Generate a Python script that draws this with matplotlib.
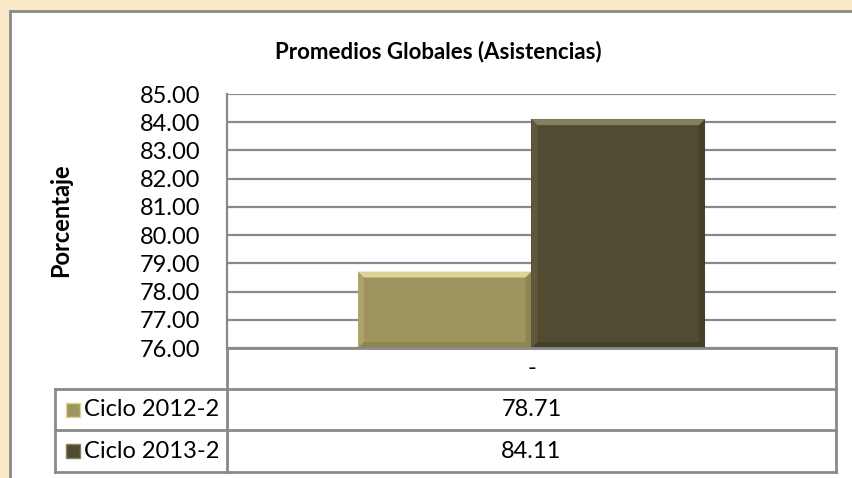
"""
Promedios globales de asistencias por ciclo, con tabla de datos
"""

import matplotlib.pyplot as plt
import numpy as np
from matplotlib.patches import Rectangle, Polygon
from matplotlib.lines import Line2D

plt.rcParams["font.family"] = ["Lato", "DejaVu Sans"]

# Datos
series = ["Ciclo 2012-2", "Ciclo 2013-2"]
valores = [78.71, 84.11]
categoria = ["-"]
yticks = [76, 77, 78, 79, 80, 81, 82, 83, 84, 85]

colores = ["#9e955e", "#514c31"]
bisel_claro = ["#ddd396", "#858062"]
bisel_oscuro = ["#6f683d", "#2f2c1b"]
gris = "#898989"

W, H = 853, 478
fig = plt.figure(figsize=(W / 100, H / 100), dpi=100)
fig.patch.set_facecolor("#fae8c6")


def fx(px):
    return px / W


def fy(py):
    return 1 - py / H


# panel blanco del grafico
fig.patches.append(Rectangle((fx(10), fy(478 + 10)), fx(900), fy(11) - fy(488),
                             transform=fig.transFigure, facecolor="white",
                             edgecolor=gris, linewidth=2, zorder=-5))

# area de trazado
left, right, top, bottom = 227, 836, 94, 348
ax = fig.add_axes([fx(left), fy(bottom), fx(right - left), fy(top) - fy(bottom)])
ax.set_facecolor("none")
ax.set_zorder(2)

ancho = 0.285
offsets = [-0.1425, 0.1425]
ax.set_xlim(-0.5, 0.5)
ax.set_ylim(yticks[0], yticks[-1])
ax.set_yticks(yticks)
ax.set_yticklabels([f"{t:.2f}" for t in yticks])
ax.set_xticks([])
ax.tick_params(axis="y", length=0, pad=19, labelsize=17, colors="black")
ax.yaxis.grid(True, color=gris, linewidth=1.6)
ax.set_axisbelow(True)
for s in ["top", "right", "bottom"]:
    ax.spines[s].set_visible(False)
ax.spines["left"].set_color(gris)
ax.spines["left"].set_linewidth(1.6)

# barras con bisel
px_x = 1.0 / (right - left)
px_y = (yticks[-1] - yticks[0]) / (bottom - top)
b = 6
for i, v in enumerate(valores):
    barra = ax.bar(offsets[i], v - yticks[0], bottom=yticks[0], width=ancho,
                   color=colores[i], zorder=3)[0]
    x0, x1 = barra.get_x(), barra.get_x() + barra.get_width()
    y0, y1 = yticks[0], v
    dx, dy = b * px_x, b * px_y
    ax.add_patch(Polygon([(x0, y1), (x1, y1), (x1 - dx, y1 - dy), (x0 + dx, y1 - dy)],
                         facecolor=bisel_claro[i], edgecolor="none", zorder=4))
    ax.add_patch(Polygon([(x0, y1), (x0 + dx, y1 - dy), (x0 + dx, y0 + dy), (x0, y0)],
                         facecolor=bisel_claro[i], edgecolor="none", zorder=4, alpha=0.25))
    ax.add_patch(Polygon([(x1, y1), (x1, y0), (x1 - dx, y0 + dy), (x1 - dx, y1 - dy)],
                         facecolor=bisel_oscuro[i], edgecolor="none", zorder=4, alpha=0.35))
    ax.add_patch(Polygon([(x0, y0), (x1, y0), (x1 - dx, y0 + dy), (x0 + dx, y0 + dy)],
                         facecolor=bisel_oscuro[i], edgecolor="none", zorder=4, alpha=0.35))

# titulo y eje
fig.text(fx(438), fy(52), "Promedios Globales (Asistencias)", ha="center", va="center",
         fontsize=16, fontweight="bold")
fig.text(fx(61), fy(220), "Porcentaje", ha="center", va="center", rotation=90,
         fontsize=17, fontweight="bold")

# tabla de datos
filas = [348, 389, 430, 472]
tabla_izq = 55


def hline(y, x0, x1):
    fig.lines.append(Line2D([fx(x0), fx(x1)], [fy(y), fy(y)], transform=fig.transFigure,
                            color=gris, linewidth=2))


def vline(x, y0, y1):
    fig.lines.append(Line2D([fx(x), fx(x)], [fy(y0), fy(y1)], transform=fig.transFigure,
                            color=gris, linewidth=2))


hline(filas[0], left, right)
for y in filas[1:]:
    hline(y, tabla_izq, right)
vline(left, filas[0], filas[-1])
vline(right, filas[0], filas[-1])
vline(tabla_izq, filas[1], filas[-1])

cx = (left + right) / 2
fig.text(fx(cx), fy((filas[0] + filas[1]) / 2), categoria[0], ha="center", va="center",
         fontsize=17)
for i, (nombre, v) in enumerate(zip(series, valores)):
    yc = (filas[i + 1] + filas[i + 2]) / 2
    fig.patches.append(Rectangle((fx(66), fy(yc + 7)), fx(14), fy(yc - 7) - fy(yc + 7),
                                 transform=fig.transFigure, facecolor=colores[i],
                                 edgecolor=bisel_claro[i], linewidth=1))
    fig.text(fx(84), fy(yc), nombre, ha="left", va="center", fontsize=17)
    fig.text(fx(cx), fy(yc), f"{v:.2f}", ha="center", va="center", fontsize=17)

fig.savefig("out.png", dpi=100, facecolor=fig.get_facecolor())
